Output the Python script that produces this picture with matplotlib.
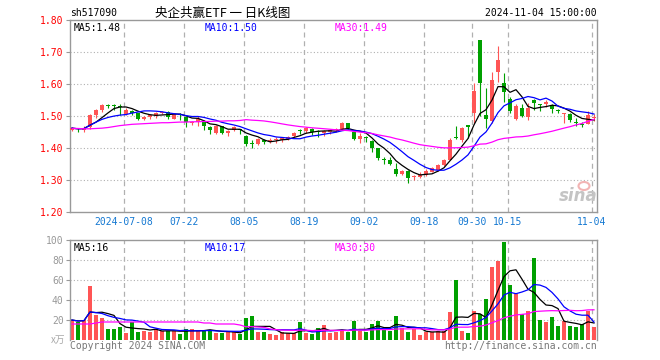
import matplotlib
matplotlib.use('Agg')
import matplotlib.pyplot as plt
from matplotlib.patches import Ellipse
import numpy as np
import pandas as pd

# trading days shown on the chart
dates = (
    ['2024-06-%s' % d for d in ['25', '26', '27', '28']] +
    ['2024-07-%s' % d for d in ['01', '02', '03', '04', '05', '08', '09', '10', '11', '12',
                                 '15', '16', '17', '18', '19', '22', '23', '24', '25', '26',
                                 '29', '30', '31']] +
    ['2024-08-%s' % d for d in ['01', '02', '05', '06', '07', '08', '09', '12', '13', '14',
                                 '15', '16', '19', '20', '21', '22', '23', '26', '27', '28',
                                 '29', '30']] +
    ['2024-09-%s' % d for d in ['02', '03', '04', '05', '06', '09', '10', '11', '12', '13',
                                 '18', '19', '20', '23', '24', '25', '26', '27', '30']] +
    ['2024-10-%s' % d for d in ['08', '09', '10', '11', '14', '15', '16', '17', '18', '21',
                                 '22', '23', '24', '25', '28', '29', '30', '31']] +
    ['2024-11-%s' % d for d in ['01', '04']]
)

opens = [1.457, 1.462, 1.457, 1.465, 1.502, 1.519, 1.533, 1.532, 1.530, 1.505,
         1.515, 1.508, 1.491, 1.496, 1.500, 1.508, 1.512, 1.492, 1.506, 1.496,
         1.478, 1.482, 1.485, 1.467, 1.446, 1.469, 1.448, 1.457, 1.457, 1.437,
         1.416, 1.413, 1.426, 1.423, 1.424, 1.424, 1.428, 1.436, 1.454, 1.453,
         1.459, 1.451, 1.446, 1.450, 1.455, 1.459, 1.477, 1.451, 1.427, 1.432,
         1.422, 1.399, 1.364, 1.364, 1.333, 1.320, 1.328, 1.309, 1.308, 1.316,
         1.326, 1.331, 1.347, 1.364, 1.435, 1.426, 1.472, 1.510, 1.737, 1.503,
         1.485, 1.639, 1.604, 1.553, 1.491, 1.525, 1.497, 1.550, 1.537, 1.536,
         1.534, 1.518, 1.505, 1.506, 1.481, 1.474, 1.476, 1.494]
highs = [1.467, 1.464, 1.468, 1.506, 1.522, 1.538, 1.539, 1.539, 1.537, 1.524,
         1.518, 1.510, 1.500, 1.507, 1.513, 1.517, 1.516, 1.508, 1.508, 1.498,
         1.484, 1.499, 1.487, 1.469, 1.472, 1.470, 1.455, 1.470, 1.460, 1.440,
         1.425, 1.430, 1.428, 1.430, 1.433, 1.434, 1.436, 1.450, 1.459, 1.467,
         1.461, 1.455, 1.455, 1.458, 1.461, 1.480, 1.479, 1.453, 1.446, 1.436,
         1.424, 1.401, 1.371, 1.372, 1.352, 1.331, 1.330, 1.316, 1.326, 1.333,
         1.340, 1.349, 1.367, 1.430, 1.468, 1.466, 1.473, 1.604, 1.737, 1.586,
         1.636, 1.719, 1.633, 1.560, 1.537, 1.537, 1.540, 1.552, 1.539, 1.550,
         1.536, 1.521, 1.510, 1.508, 1.494, 1.482, 1.515, 1.505]
lows = [1.452, 1.450, 1.450, 1.460, 1.494, 1.514, 1.524, 1.520, 1.503, 1.502,
        1.503, 1.486, 1.487, 1.491, 1.495, 1.505, 1.492, 1.490, 1.488, 1.465,
        1.472, 1.470, 1.457, 1.443, 1.444, 1.443, 1.436, 1.453, 1.443, 1.405,
        1.399, 1.409, 1.412, 1.416, 1.415, 1.420, 1.424, 1.433, 1.445, 1.446,
        1.442, 1.435, 1.436, 1.445, 1.450, 1.457, 1.458, 1.424, 1.417, 1.419,
        1.389, 1.363, 1.350, 1.347, 1.312, 1.316, 1.292, 1.300, 1.305, 1.313,
        1.324, 1.329, 1.345, 1.362, 1.428, 1.420, 1.432, 1.478, 1.500, 1.461,
        1.477, 1.607, 1.545, 1.510, 1.487, 1.496, 1.486, 1.519, 1.516, 1.527,
        1.508, 1.508, 1.479, 1.482, 1.469, 1.465, 1.474, 1.484]
closes = [1.462, 1.458, 1.462, 1.503, 1.519, 1.533, 1.531, 1.530, 1.527, 1.520,
          1.508, 1.491, 1.497, 1.504, 1.510, 1.514, 1.497, 1.505, 1.504, 1.482,
          1.480, 1.492, 1.468, 1.455, 1.470, 1.448, 1.453, 1.467, 1.455, 1.413,
          1.414, 1.427, 1.418, 1.425, 1.426, 1.432, 1.434, 1.448, 1.452, 1.464,
          1.449, 1.449, 1.452, 1.455, 1.458, 1.478, 1.462, 1.427, 1.437, 1.430,
          1.401, 1.368, 1.362, 1.351, 1.319, 1.329, 1.305, 1.311, 1.315, 1.329,
          1.336, 1.347, 1.364, 1.425, 1.432, 1.461, 1.465, 1.578, 1.604, 1.490,
          1.612, 1.675, 1.576, 1.517, 1.531, 1.500, 1.526, 1.542, 1.535, 1.544,
          1.521, 1.516, 1.507, 1.488, 1.479, 1.472, 1.502, 1.497]
# volume in 万手
volumes = [20, 18, 20, 54, 25, 22, 11, 11, 13, 7,
           18, 8, 9, 8, 11, 9, 9, 9, 6, 11,
           11, 9, 10, 10, 7, 7, 8, 8, 6, 22,
           24, 8, 8, 6, 5, 8, 7, 7, 18, 7,
           6, 12, 15, 7, 8, 9, 8, 19, 9, 8,
           16, 19, 10, 9, 24, 12, 8, 11, 5, 8,
           8, 9, 9, 28, 60, 9, 7, 29, 26, 41,
           73, 79, 98, 55, 46, 26, 29, 82, 20, 18,
           23, 14, 19, 14, 13, 16, 29, 13]

# MA30 before 30 days of data exist
ma30_head = [1.461, 1.461, 1.460, 1.460, 1.461, 1.462, 1.464, 1.467, 1.470, 1.472,
             1.474, 1.475, 1.476, 1.477, 1.478, 1.479, 1.479, 1.480, 1.481, 1.481,
             1.482, 1.482, 1.483, 1.483, 1.484, 1.484, 1.485, 1.485, 1.486]
vol_ma30_head = [16, 16, 16, 16, 17, 18, 18, 18, 18, 18,
                 18, 18, 18, 18, 18, 18, 18, 18, 18, 18,
                 18, 18, 17, 17, 16, 16, 16, 16, 15]

tick_dates = ['2024-07-08', '2024-07-22', '2024-08-05', '2024-08-19', '2024-09-02',
              '2024-09-18', '2024-09-30', '2024-10-15', '2024-11-04']
tick_labels = ['2024-07-08', '07-22', '08-05', '08-19', '09-02',
               '09-18', '09-30', '10-15', '11-04']
price_ticks = [1.20, 1.30, 1.40, 1.50, 1.60, 1.70, 1.80]
vol_ticks = [20, 40, 60, 80, 100]

RED = '#ff5555'
GREEN = '#00a000'
GRID = '#b0b0b0'
SPINE = '#999999'
BLUE_TXT = '#1478d2'
MONO = 'DejaVu Sans Mono'
CJK = ['Noto Sans CJK SC', 'DejaVu Sans']

o = np.array(opens)
h = np.array(highs)
l = np.array(lows)
c = np.array(closes)
v = np.array(volumes, dtype=float)
x = np.arange(len(c))
colors = np.where(c >= o, RED, GREEN)

cs = pd.Series(c)
ma5 = cs.rolling(5, min_periods=1).mean().values
ma10 = cs.rolling(10, min_periods=1).mean().values
ma30 = cs.rolling(30).mean().values
ma30[:len(ma30_head)] = ma30_head

vs = pd.Series(v)
vma5 = vs.rolling(5, min_periods=1).mean().values
vma10 = vs.rolling(10, min_periods=1).mean().values
vma30 = vs.rolling(30).mean().values
vma30[:len(vol_ma30_head)] = vol_ma30_head

W, H = 660, 360
fig = plt.figure(figsize=(W / 100, H / 100), dpi=100)
fig.patch.set_facecolor('white')


def box(left, top, right, bottom):
    return [left / W, 1 - bottom / H, (right - left) / W, (bottom - top) / H]


ax = fig.add_axes(box(70, 20, 597, 212))
axv = fig.add_axes(box(70, 240, 597, 340))

grid_pos = [dates.index(d) - 0.37 for d in tick_dates]

for a in (ax, axv):
    a.set_xlim(-0.33, 87.5)
    for gp in grid_pos:
        a.axvline(gp, color=GRID, ls=(0, (4, 3)), lw=0.9, zorder=0)
    for s in a.spines.values():
        s.set_color(SPINE)
        s.set_linewidth(1.0)

# price panel
ax.set_ylim(1.20, 1.80)
for y in price_ticks[1:-1]:
    ax.axhline(y, color=GRID, ls=(0, (1, 2)), lw=0.8, zorder=0)
ax.vlines(x, l, h, colors=colors, lw=0.8, zorder=2)
body_bot = np.minimum(o, c)
body_h = np.maximum(np.abs(c - o), 0.003)
ax.bar(x, body_h, 0.72, bottom=body_bot, color=colors, linewidth=0, zorder=3)
ax.plot(x, ma5, color='black', lw=0.9, zorder=4)
ax.plot(x, ma10, color='#0000ff', lw=0.9, zorder=4)
ax.plot(x, ma30, color='#ff00ff', lw=0.9, zorder=4)

ax.set_yticks(price_ticks)
ax.set_yticklabels(['%.2f' % t for t in price_ticks], color='red', fontsize=7, family=MONO)
ax.tick_params(axis='y', length=3, color=SPINE, pad=1.5)
ax.set_xticks(grid_pos)
ax.set_xticklabels(tick_labels, color=BLUE_TXT, fontsize=7, family=MONO)
ax.tick_params(axis='x', length=0, pad=3.5)

ax.text(4 / 527, 0.985, 'MA5:1.48', transform=ax.transAxes, color='black',
        fontsize=7, family=MONO, va='top')
ax.text(135 / 527, 0.985, 'MA10:1.50', transform=ax.transAxes, color='#0000ff',
        fontsize=7, family=MONO, va='top')
ax.text(265 / 527, 0.985, 'MA30:1.49', transform=ax.transAxes, color='#ff00ff',
        fontsize=7, family=MONO, va='top')

# sina watermark
fig.text(578 / W, 1 - 196 / H, 'sina', color='#c4c4c4', fontsize=12,
         style='italic', weight='bold', family='DejaVu Sans', ha='center', va='center')
fig.add_artist(Ellipse((584 / W, 1 - 186 / H), 11 / W, 8 / H, transform=fig.transFigure,
                       fill=False, edgecolor='#f2b4b4', lw=1.5))

# volume panel
axv.set_ylim(0, 100)
for y in vol_ticks[:-1]:
    axv.axhline(y, color=GRID, ls=(0, (1, 2)), lw=0.8, zorder=0)
axv.bar(x, v, 0.75, color=colors, linewidth=0, zorder=2)
axv.plot(x, vma5, color='black', lw=0.9, zorder=4)
axv.plot(x, vma10, color='#0000ff', lw=0.9, zorder=4)
axv.plot(x, vma30, color='#ff00ff', lw=0.9, zorder=4)
axv.spines['bottom'].set_visible(False)
axv.set_yticks(vol_ticks)
axv.set_yticklabels([str(t) for t in vol_ticks], color='#999999', fontsize=7, family=MONO)
axv.tick_params(axis='y', length=3, color=SPINE, pad=1.5)
axv.set_xticks([])

axv.text(4 / 527, 0.97, 'MA5:16', transform=axv.transAxes, color='black',
         fontsize=7, family=MONO, va='top')
axv.text(135 / 527, 0.97, 'MA10:17', transform=axv.transAxes, color='#0000ff',
         fontsize=7, family=MONO, va='top')
axv.text(265 / 527, 0.97, 'MA30:30', transform=axv.transAxes, color='#ff00ff',
         fontsize=7, family=MONO, va='top')
fig.text(65 / W, 1 - 340 / H, 'x万', color='#aaaaaa', fontsize=7, family=CJK,
         ha='right', va='center')

# header and footer
fig.text(70 / W, 1 - 13 / H, 'sh517090', fontsize=7, family=MONO, va='center')
fig.text(223 / W, 1 - 13 / H, '央企共赢ETF 一 日K线图', fontsize=9, family=CJK,
         ha='center', va='center')
fig.text(597 / W, 1 - 13 / H, '2024-11-04 15:00:00', fontsize=7, family=MONO,
         ha='right', va='center')
fig.text(70 / W, 1 - 346 / H, 'Copyright 2024 SINA.COM', fontsize=7, family=MONO,
         color='#777777', va='center')
fig.text(597 / W, 1 - 346 / H, 'http://finance.sina.com.cn', fontsize=7, family=MONO,
         color='#777777', ha='right', va='center')

fig.savefig('out.png', dpi=100)
